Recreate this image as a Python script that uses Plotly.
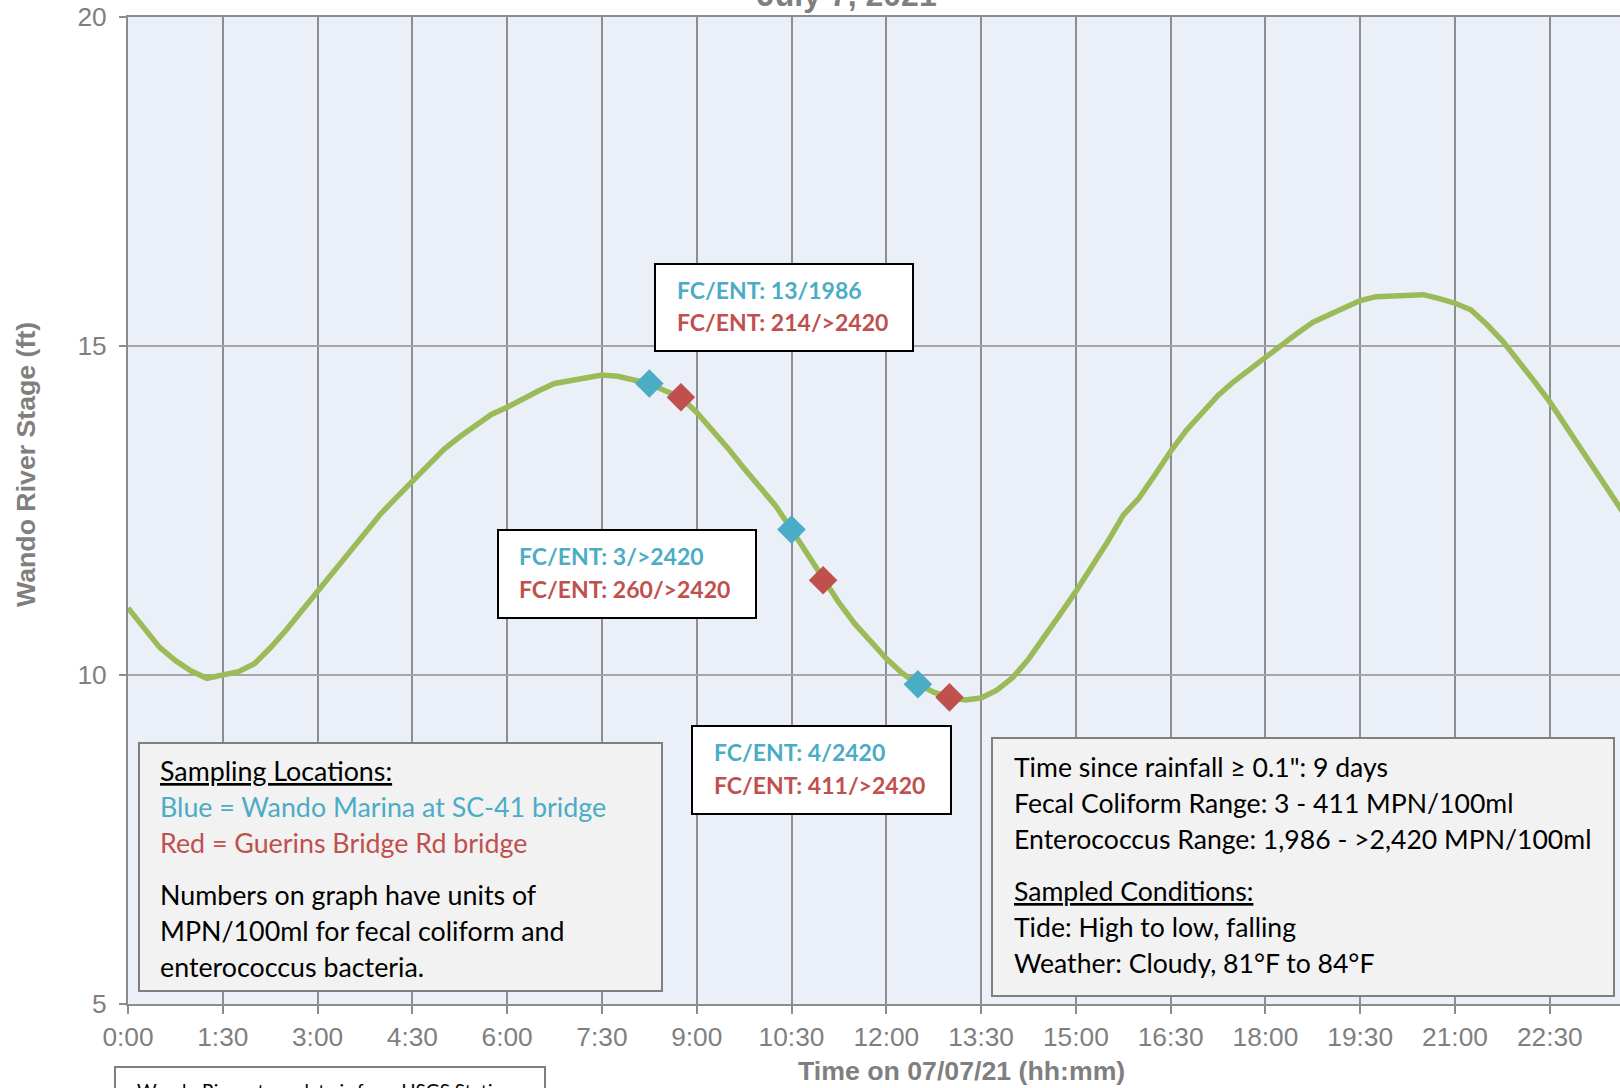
import plotly.graph_objects as go

# ---------------- data ----------------
DAY = "2021-07-07"
TIMES = ["0:00","0:15","0:30","0:45","1:00","1:15","1:30","1:45","2:00","2:15","2:30","2:45",
         "3:00","3:15","3:30","3:45","4:00","4:15","4:30","4:45","5:00","5:15","5:30","5:45",
         "6:00","6:15","6:30","6:45","7:00","7:15","7:30","7:45","8:00","8:15","8:30","8:45",
         "9:00","9:15","9:30","9:45","10:00","10:15","10:30","10:45","11:00","11:15","11:30","11:45",
         "12:00","12:15","12:30","12:45","13:00","13:15","13:30","13:45","14:00","14:15","14:30","14:45",
         "15:00","15:15","15:30","15:45","16:00","16:15","16:30","16:45","17:00","17:15","17:30","17:45",
         "18:00","18:15","18:30","18:45","19:00","19:15","19:30","19:45","20:00","20:15","20:30","20:45",
         "21:00","21:15","21:30","21:45","22:00","22:15","22:30","22:45","23:00","23:15","23:30","23:45"]
STAGE = [11.02,10.72,10.42,10.22,10.06,9.95,9.99,10.05,10.17,10.41,10.68,10.98,
         11.28,11.58,11.87,12.16,12.45,12.70,12.95,13.20,13.43,13.62,13.80,13.96,
         14.07,14.20,14.32,14.43,14.47,14.52,14.56,14.54,14.49,14.43,14.32,14.22,
         13.99,13.73,13.44,13.14,12.86,12.57,12.21,11.84,11.44,11.10,10.78,10.50,
         10.25,10.03,9.86,9.74,9.66,9.62,9.65,9.77,9.96,10.24,10.57,10.92,
         11.27,11.64,12.02,12.43,12.69,13.04,13.40,13.72,13.98,14.25,14.46,14.65,
         14.83,15.01,15.19,15.36,15.47,15.57,15.69,15.75,15.76,15.76,15.78,15.72,
         15.65,15.55,15.33,15.08,14.79,14.47,14.15,13.79,13.41,13.05,12.70,12.34]

BLUE_TIMES = ["8:15", "10:30", "12:30"]
BLUE_STAGE = [14.43, 12.21, 9.86]
RED_TIMES = ["8:45", "11:00", "13:00"]
RED_STAGE = [14.22, 11.44, 9.66]

BLUE_LABELS = ["FC/ENT: 13/1986", "FC/ENT: 3/>2420", "FC/ENT: 4/2420"]
RED_LABELS = ["FC/ENT: 214/>2420", "FC/ENT: 260/>2420", "FC/ENT: 411/>2420"]

TICK_TIMES = ["0:00","1:30","3:00","4:30","6:00","7:30","9:00","10:30","12:00",
              "13:30","15:00","16:30","18:00","19:30","21:00","22:30"]
Y_TICKS = [5, 10, 15, 20]

TITLE = "July 7, 2021"
X_TITLE = "Time on 07/07/21 (hh:mm)"
Y_TITLE = "Wando River Stage (ft)"
FOOTNOTE = "Wando River stage data is from USGS Station"

LEFT_BOX = [("<u>Sampling Locations:</u>", "black"),
            ("Blue = Wando Marina at SC-41 bridge", "blue"),
            ("Red = Guerins Bridge Rd bridge", "red"),
            ("Numbers on graph have units of", "black"),
            ("MPN/100ml for fecal coliform and", "black"),
            ("enterococcus bacteria.", "black")]
RIGHT_BOX = ["Time since rainfall \u2265 0.1\": 9 days",
             "Fecal Coliform Range: 3 - 411 MPN/100ml",
             "Enterococcus Range: 1,986 - >2,420 MPN/100ml",
             "<u>Sampled Conditions:</u>",
             "Tide: High to low, falling",
             "Weather: Cloudy, 81\u00b0F to 84\u00b0F"]

# ---------------- styling ----------------
C_LINE = "#9BBB59"
C_BLUE = "#4BACC6"
C_RED = "#C0504D"
C_GRAY = "#7F7F7F"
COLMAP = {"black": "#000000", "blue": C_BLUE, "red": C_RED}
TXT_FONT = "Lato, Carlito, Calibri, sans-serif"
AX_FONT = "Liberation Sans, Arial, sans-serif"

W, H = 1620, 1088
L, R, T, B = 128, 0, 17, 84
PW, PH = W - L - R, H - T - B


def dt(t):
    h, m = t.split(":")
    return f"{DAY} {int(h):02d}:{m}:00"


def px(x):  # pixel -> paper
    return (x - L) / PW


def py(y):
    return (H - B - y) / PH


fig = go.Figure()
fig.add_trace(go.Scatter(x=[dt(t) for t in TIMES], y=STAGE, mode="lines",
                         line=dict(color=C_LINE, width=5.5), showlegend=False))
fig.add_trace(go.Scatter(x=[dt(t) for t in BLUE_TIMES], y=BLUE_STAGE, mode="markers",
                         marker=dict(symbol="diamond", size=22, color=C_BLUE), showlegend=False))
fig.add_trace(go.Scatter(x=[dt(t) for t in RED_TIMES], y=RED_STAGE, mode="markers",
                         marker=dict(symbol="diamond", size=22, color=C_RED), showlegend=False))

shapes = []
annotations = []

FC_BOXES = [(655, 264, 913, 351, 675, 290, 322),
            (498, 530, 756, 618, 517, 556, 589),
            (692, 726, 951, 814, 712, 752, 785)]
for (x0, y0, x1, y1, tx, ly1, ly2), bl, rl in zip(FC_BOXES, BLUE_LABELS, RED_LABELS):
    shapes.append(dict(type="rect", xref="paper", yref="paper",
                       x0=px(x0), x1=px(x1), y0=py(y1), y1=py(y0),
                       fillcolor="white", line=dict(color="black", width=2), layer="above"))
    for txt, ly, c in [(bl, ly1, C_BLUE), (rl, ly2, C_RED)]:
        annotations.append(dict(xref="paper", yref="paper", x=px(tx), y=py(ly),
                                xanchor="left", yanchor="middle", showarrow=False,
                                text=f"<b>{txt}</b>", font=dict(family=TXT_FONT, size=23, color=c)))

shapes.append(dict(type="rect", xref="paper", yref="paper",
                   x0=px(139), x1=px(662), y0=py(991), y1=py(743),
                   fillcolor="#F2F2F2", line=dict(color=C_GRAY, width=2), layer="above"))
for (txt, c), ly in zip(LEFT_BOX, [771, 807, 843, 895, 931, 967]):
    annotations.append(dict(xref="paper", yref="paper", x=px(158), y=py(ly),
                            xanchor="left", yanchor="middle", showarrow=False,
                            text=txt, font=dict(family=TXT_FONT, size=26.8, color=COLMAP[c])))

shapes.append(dict(type="rect", xref="paper", yref="paper",
                   x0=px(992), x1=px(1614), y0=py(996), y1=py(738),
                   fillcolor="#F2F2F2", line=dict(color=C_GRAY, width=2), layer="above"))
for txt, ly in zip(RIGHT_BOX, [767, 803, 839, 891, 927, 963]):
    annotations.append(dict(xref="paper", yref="paper", x=px(1012), y=py(ly),
                            xanchor="left", yanchor="middle", showarrow=False,
                            text=txt, font=dict(family=TXT_FONT, size=26.6, color="black")))

shapes.append(dict(type="rect", xref="paper", yref="paper",
                   x0=px(115), x1=px(545), y0=py(1110), y1=py(1067),
                   fillcolor="white", line=dict(color=C_GRAY, width=2), layer="above"))
annotations.append(dict(xref="paper", yref="paper", x=px(135), y=py(1077),
                        xanchor="left", yanchor="top", showarrow=False,
                        text=FOOTNOTE, font=dict(family=TXT_FONT, size=19, color="black")))

annotations.append(dict(xref="paper", yref="paper", x=px(847), y=py(15),
                        xanchor="center", yanchor="bottom", showarrow=False,
                        text=f"<b>{TITLE}</b>", font=dict(family=AX_FONT, size=32, color=C_GRAY)))
annotations.append(dict(xref="paper", yref="paper", x=px(961), y=py(1071),
                        xanchor="center", yanchor="middle", showarrow=False,
                        text=f"<b>{X_TITLE}</b>", font=dict(family=AX_FONT, size=26.7, color=C_GRAY)))
annotations.append(dict(xref="paper", yref="paper", x=px(26), y=py(465),
                        xanchor="center", yanchor="middle", showarrow=False, textangle=-90,
                        text=f"<b>{Y_TITLE}</b>", font=dict(family=AX_FONT, size=26.7, color=C_GRAY)))

fig.update_layout(
    width=W, height=H,
    margin=dict(l=L, r=R, t=T, b=B, autoexpand=False),
    paper_bgcolor="white", plot_bgcolor="#EBF0F8",
    shapes=shapes, annotations=annotations,
    xaxis=dict(type="date", range=[dt("0:00"), f"{DAY} 23:36:40"],
               tickvals=[dt(t) for t in TICK_TIMES], ticktext=TICK_TIMES,
               showgrid=True, gridcolor="#8E8E8E", gridwidth=2,
               showline=True, linecolor="#8C8C8C", linewidth=2, mirror=True,
               ticks="outside", ticklen=8, tickwidth=2, tickcolor="#8C8C8C",
               ticklabelstandoff=0, ticklabeloverflow="allow", automargin=False,
               tickfont=dict(family=AX_FONT, size=26.3, color=C_GRAY), zeroline=False),
    yaxis=dict(range=[5, 20], tickvals=Y_TICKS,
               showgrid=True, gridcolor="#A6A6A6", gridwidth=2,
               showline=True, linecolor="#8C8C8C", linewidth=2,
               ticks="outside", ticklen=7, tickwidth=2, tickcolor="#8C8C8C",
               ticklabelstandoff=7, ticklabeloverflow="allow", automargin=False,
               tickfont=dict(family=AX_FONT, size=26.3, color=C_GRAY), zeroline=False),
)

fig.write_html("out.html",
               config={"displayModeBar": False},
               post_script="document.body.style.margin='0';document.body.style.overflow='hidden';")
